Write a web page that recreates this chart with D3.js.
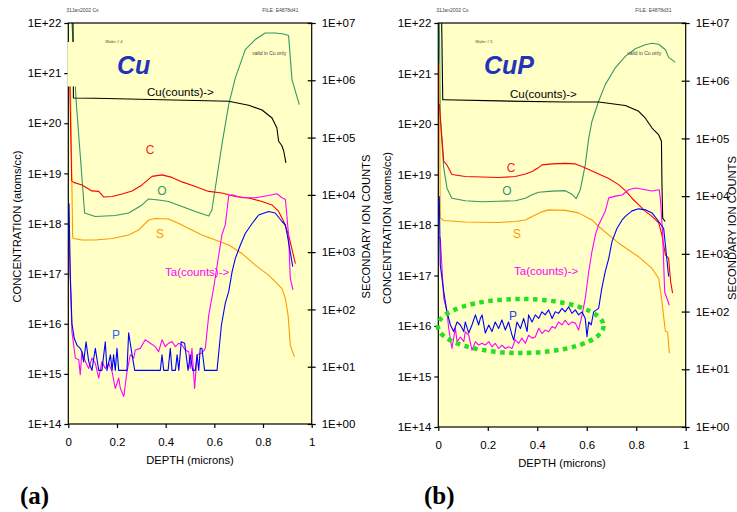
<!DOCTYPE html>
<html>
<head>
<meta charset="utf-8">
<script src="https://cdn.jsdelivr.net/npm/d3@7"></script>
<style>
  body { margin: 0; background: #fff; }
  svg { display: block; font-family: "Liberation Sans", Arial, sans-serif; }
</style>
</head>
<body>
<svg id="chart"></svg>
<script>
// Values.
// Each point is [depth (microns), log10(value)].
// C, O, S and P are concentrations (left axis), Cu and Ta are counts (right axis).

const xTicks = [0, 0.2, 0.4, 0.6, 0.8, 1];
const concDecades = [14, 15, 16, 17, 18, 19, 20, 21, 22];
const countDecades = [0, 1, 2, 3, 4, 5, 6, 7];

// ---- panel (a) : Cu ----
const cuCountsA = [[0.019,7.2],[0.021,5.69],[0.11,5.686],[0.385,5.66],[0.659,5.634],[0.741,5.564],[0.796,5.482],
  [0.837,5.342],[0.857,5.167],[0.864,4.94],[0.878,4.853],[0.885,4.766],[0.894,4.557]];
const oxygenA = [[0.013,22.2],[0.032,20.46],[0.067,18.21],[0.111,18.14],[0.193,18.16],[0.248,18.21],[0.303,18.37],
  [0.33,18.49],[0.371,18.47],[0.412,18.44],[0.467,18.34],[0.522,18.24],[0.577,18.15],[0.59,18.27],[0.631,19.57],
  [0.659,20.37],[0.686,20.9],[0.727,21.47],[0.768,21.67],[0.809,21.8],[0.85,21.8],[0.885,21.78],[0.905,21.75],
  [0.919,20.87],[0.949,20.37]];
const carbonA = [[0.004,21.3],[0.014,18.85],[0.022,18.82],[0.056,18.77],[0.097,18.65],[0.125,18.64],[0.145,18.53],
  [0.18,18.54],[0.221,18.59],[0.262,18.65],[0.303,18.77],[0.344,18.94],[0.385,18.97],[0.426,18.92],[0.467,18.83],
  [0.522,18.74],[0.577,18.64],[0.631,18.61],[0.686,18.54],[0.741,18.51],[0.796,18.44],[0.837,18.37],[0.864,18.24],
  [0.885,18.04],[0.905,17.77],[0.933,17.2]];
const sulfurA = [[0.007,21.3],[0.018,17.72],[0.022,17.7],[0.056,17.67],[0.111,17.67],[0.18,17.7],[0.248,17.77],
  [0.289,17.87],[0.33,18.07],[0.357,18.1],[0.412,18.09],[0.454,18.0],[0.495,17.9],[0.549,17.77],[0.604,17.67],
  [0.659,17.57],[0.714,17.4],[0.768,17.17],[0.823,16.97],[0.85,16.84],[0.878,16.7],[0.892,16.5],[0.903,16.17],
  [0.912,15.57],[0.929,15.34]];
const taCountsA = [[0.003,3.25],[0.015,1.61],[0.029,1.15],[0.043,1.12],[0.049,0.86],[0.056,1.26],[0.07,1.09],
  [0.084,0.97],[0.097,1.15],[0.111,1.06],[0.125,0.8],[0.138,1.09],[0.152,0.97],[0.166,1.06],[0.18,0.91],
  [0.193,0.62],[0.207,0.8],[0.214,0.62],[0.228,0.48],[0.241,0.91],[0.255,1.21],[0.269,1.15],[0.275,1.29],
  [0.296,1.32],[0.316,1.47],[0.337,1.41],[0.357,1.35],[0.371,1.26],[0.385,1.47],[0.399,1.35],[0.412,1.41],
  [0.426,1.44],[0.44,1.35],[0.454,1.41],[0.467,1.38],[0.481,1.29],[0.495,1.26],[0.501,0.97],[0.508,1.32],
  [0.519,0.62],[0.529,1.21],[0.549,1.24],[0.563,1.32],[0.577,1.9],[0.597,2.37],[0.618,2.95],[0.631,3.3],
  [0.645,3.48],[0.659,3.98],[0.673,4.0],[0.714,3.95],[0.768,3.95],[0.823,3.99],[0.857,4.02],[0.878,3.95],
  [0.892,3.92],[0.905,3.3],[0.912,2.54],[0.923,2.34]];
const phosA = [[0.003,18.4],[0.008,17.0],[0.015,16.0],[0.025,15.7],[0.036,15.57],[0.049,15.51],[0.056,15.44],
  [0.063,15.24],[0.073,15.64],[0.084,15.24],[0.097,15.07],[0.111,15.51],[0.125,15.07],[0.138,15.07],[0.152,15.64],
  [0.159,15.07],[0.173,15.38],[0.18,15.07],[0.186,15.38],[0.193,15.07],[0.2,15.51],[0.207,15.07],[0.241,15.07],
  [0.248,15.82],[0.262,15.38],[0.273,15.07],[0.378,15.07],[0.385,15.38],[0.392,15.07],[0.41,15.07],[0.419,15.51],
  [0.426,15.07],[0.44,15.07],[0.447,15.38],[0.454,15.07],[0.464,15.64],[0.478,15.61],[0.492,15.07],[0.501,15.38],
  [0.511,15.07],[0.522,15.07],[0.529,15.38],[0.536,15.07],[0.542,15.51],[0.549,15.51],[0.56,15.07],[0.611,15.07],
  [0.629,15.97],[0.645,16.41],[0.659,16.64],[0.673,17.04],[0.686,17.3],[0.707,17.57],[0.727,17.8],[0.755,18.0],
  [0.782,18.17],[0.823,18.24],[0.85,18.21],[0.878,18.04],[0.892,17.97],[0.905,17.63],[0.922,17.14]];

// ---- panel (b) : CuP ----
const cuCountsB = [[0.013,7.2],[0.018,5.67],[0.022,5.67],[0.244,5.65],[0.513,5.63],[0.648,5.63],[0.756,5.57],
  [0.81,5.47],[0.837,5.35],[0.864,5.18],[0.891,5.06],[0.902,4.95],[0.904,4.2],[0.907,3.62],[0.917,3.56]];
const oxygenB = [[0.004,22.1],[0.008,20.12],[0.022,19.13],[0.035,18.73],[0.055,18.53],[0.109,18.48],[0.177,18.46],
  [0.244,18.47],[0.311,18.48],[0.352,18.53],[0.379,18.6],[0.406,18.65],[0.46,18.67],[0.513,18.68],[0.54,18.61],
  [0.557,18.52],[0.574,18.7],[0.594,19.19],[0.608,19.72],[0.621,20.05],[0.648,20.45],[0.675,20.78],[0.715,21.11],
  [0.756,21.34],[0.796,21.49],[0.837,21.57],[0.864,21.6],[0.891,21.58],[0.918,21.47],[0.931,21.32],[0.945,21.27],
  [0.958,21.22]];
const carbonB = [[0.004,20.4],[0.022,19.26],[0.035,19.19],[0.055,19.0],[0.109,18.96],[0.177,18.95],[0.244,18.94],
  [0.311,18.96],[0.352,19.01],[0.379,19.06],[0.406,19.14],[0.419,19.19],[0.46,19.21],[0.513,19.22],[0.554,19.21],
  [0.581,19.16],[0.608,19.1],[0.648,19.01],[0.689,18.92],[0.729,18.8],[0.756,18.68],[0.783,18.53],[0.81,18.4],
  [0.837,18.27],[0.864,18.17],[0.891,18.04],[0.904,17.8],[0.918,17.41],[0.931,17.34],[0.939,16.88],[0.947,16.65]];
const sulfurB = [[0.004,21.2],[0.008,18.14],[0.022,18.09],[0.109,18.06],[0.244,18.05],[0.311,18.07],[0.352,18.1],
  [0.379,18.17],[0.419,18.26],[0.446,18.3],[0.513,18.29],[0.567,18.24],[0.621,18.1],[0.648,17.97],[0.729,17.64],
  [0.81,17.37],[0.864,17.14],[0.891,16.94],[0.904,16.48],[0.918,15.89],[0.927,15.88],[0.934,15.46]];
const taCountsB = [[0.004,3.29],[0.008,3.27],[0.022,2.23],[0.035,2.0],[0.042,1.71],[0.055,1.36],[0.069,1.71],
  [0.076,1.48],[0.089,1.56],[0.103,1.48],[0.109,1.65],[0.123,1.59],[0.136,1.33],[0.15,1.48],[0.163,1.42],
  [0.177,1.45],[0.19,1.42],[0.204,1.48],[0.217,1.39],[0.23,1.45],[0.244,1.36],[0.257,1.42],[0.271,1.36],
  [0.284,1.39],[0.298,1.36],[0.311,1.51],[0.325,1.45],[0.338,1.54],[0.352,1.45],[0.365,1.59],[0.379,1.54],
  [0.392,1.56],[0.406,1.71],[0.419,1.62],[0.432,1.68],[0.446,1.65],[0.46,1.74],[0.473,1.71],[0.486,1.82],
  [0.5,1.77],[0.513,1.85],[0.527,1.77],[0.54,1.82],[0.554,1.8],[0.567,1.68],[0.581,1.94],[0.594,2.23],
  [0.608,2.69],[0.621,3.04],[0.635,3.33],[0.648,3.5],[0.675,3.74],[0.689,3.97],[0.716,4.0],[0.743,4.02],
  [0.77,4.11],[0.796,4.14],[0.837,4.11],[0.864,4.09],[0.893,4.11],[0.898,3.94],[0.907,3.33],[0.915,2.34],
  [0.934,2.11]];
const phosB = [[0.004,18.57],[0.008,17.21],[0.022,16.68],[0.035,16.28],[0.049,16.02],[0.062,15.89],[0.076,16.08],
  [0.089,16.02],[0.103,15.89],[0.109,16.08],[0.123,15.86],[0.136,16.02],[0.15,16.22],[0.163,16.02],[0.17,16.15],
  [0.177,16.22],[0.19,15.86],[0.204,16.02],[0.217,15.89],[0.23,16.08],[0.244,15.95],[0.257,16.12],[0.271,15.92],
  [0.284,16.08],[0.298,15.82],[0.305,15.72],[0.318,16.08],[0.332,15.95],[0.345,16.15],[0.359,15.89],[0.365,16.22],
  [0.379,16.08],[0.392,16.22],[0.406,16.15],[0.419,16.28],[0.432,16.22],[0.446,16.32],[0.46,16.15],[0.473,16.28],
  [0.486,16.25],[0.5,16.35],[0.513,16.28],[0.527,16.38],[0.54,16.25],[0.554,16.32],[0.567,16.22],[0.581,16.28],
  [0.594,16.15],[0.601,15.79],[0.608,16.08],[0.618,16.02],[0.628,16.28],[0.648,16.35],[0.661,16.75],[0.675,17.08],
  [0.689,17.34],[0.702,17.67],[0.722,17.93],[0.743,18.1],[0.756,18.17],[0.783,18.28],[0.81,18.32],[0.837,18.3],
  [0.864,18.24],[0.891,18.07],[0.911,17.93],[0.918,17.6],[0.931,16.98]];

const COLORS = { cu: '#000000', o: '#339966', c: '#ff0000', s: '#ff9900', ta: '#ff00ff', p: '#0000ff' };
const PLOT_BG = '#ffffc6';

const W = 737, H = 512;
const svg = d3.select('#chart').attr('width', W).attr('height', H);
svg.append('rect').attr('width', W).attr('height', H).attr('fill', '#fff');

function drawPanel(cfg) {
  const g = svg.append('g');
  const x = d3.scaleLinear().domain([0, 1]).range([cfg.left, cfg.right]);
  const yConc = d3.scaleLog().domain([1e14, 1e22]).range([cfg.bottom, cfg.top]);
  const yCount = d3.scaleLog().domain([1, 1e7]).range([cfg.bottom, cfg.top]);

  g.append('rect')
    .attr('x', cfg.left).attr('y', cfg.top)
    .attr('width', cfg.right - cfg.left).attr('height', cfg.bottom - cfg.top)
    .attr('fill', PLOT_BG);

  g.append('clipPath').attr('id', cfg.id + '-clip')
    .append('rect')
    .attr('x', cfg.left).attr('y', cfg.top)
    .attr('width', cfg.right - cfg.left).attr('height', cfg.bottom - cfg.top);

  const curves = g.append('g').attr('clip-path', `url(#${cfg.id}-clip)`);
  for (const s of cfg.series) {
    const y = s.axis === 'count' ? yCount : yConc;
    const line = d3.line().x(d => x(d[0])).y(d => y(Math.pow(10, d[1])));
    curves.append('path')
      .attr('d', line(s.data))
      .attr('fill', 'none')
      .attr('stroke', s.color)
      .attr('stroke-width', 1.1)
      .attr('stroke-linejoin', 'round');
  }

  // frame
  g.append('rect')
    .attr('x', cfg.left).attr('y', cfg.top)
    .attr('width', cfg.right - cfg.left).attr('height', cfg.bottom - cfg.top)
    .attr('fill', 'none').attr('stroke', '#000').attr('stroke-width', 1.2);

  // left axis
  const leftAxis = g.append('g')
    .attr('transform', `translate(${cfg.left},0)`)
    .call(d3.axisLeft(yConc)
      .tickValues(concDecades.map(e => Math.pow(10, e)))
      .tickFormat(d => '1E+' + Math.round(Math.log10(d)))
      .tickSize(4).tickPadding(3));
  // right axis, ticks cross the line
  const rightAxis = g.append('g')
    .attr('transform', `translate(${cfg.right},0)`)
    .call(d3.axisRight(yCount)
      .tickValues(countDecades.map(e => Math.pow(10, e)))
      .tickFormat(d => '1E+' + String(Math.round(Math.log10(d))).padStart(2, '0'))
      .tickSize(4).tickPadding(6));
  rightAxis.selectAll('.tick line').attr('x1', -4);
  // bottom axis
  const bottomAxis = g.append('g')
    .attr('transform', `translate(0,${cfg.bottom})`)
    .call(d3.axisBottom(x)
      .tickValues(xTicks)
      .tickFormat(d => String(+d.toFixed(1)))
      .tickSize(4).tickPadding(9.5));

  for (const a of [leftAxis, rightAxis, bottomAxis]) {
    a.select('.domain').remove();
    a.selectAll('.tick line').attr('stroke', '#000').attr('stroke-width', 1.2);
    a.selectAll('.tick text')
      .attr('font-family', '"Liberation Sans", Arial, sans-serif')
      .attr('font-size', 11.5).attr('fill', '#000');
  }

  // text box in panel covering part of the left frame
  if (cfg.cover) {
    g.append('rect')
      .attr('x', cfg.left - 0.8).attr('y', cfg.cover[0])
      .attr('width', 95).attr('height', cfg.cover[1] - cfg.cover[0])
      .attr('fill', PLOT_BG);
  }

  const midY = (cfg.top + cfg.bottom) / 2 + 3;
  g.append('text')
    .attr('transform', `translate(${cfg.left - 47.5},${midY}) rotate(-90)`)
    .attr('text-anchor', 'middle').attr('font-size', 11.2).attr('fill', '#000')
    .text('CONCENTRATION (atoms/cc)');
  g.append('text')
    .attr('transform', `translate(${cfg.right + cfg.countTitleDx},${midY}) rotate(-90)`)
    .attr('text-anchor', 'middle').attr('font-size', 11.2).attr('fill', '#000')
    .text('SECONDARY ION COUNTS');
  g.append('text')
    .attr('x', (cfg.left + cfg.right) / 2).attr('y', cfg.bottom + 40)
    .attr('text-anchor', 'middle').attr('font-size', 11.2)
    .text('DEPTH (microns)');

  // tiny header / stamp texts
  const tiny = [
    { t: cfg.date, x: cfg.left - 2, y: 12, s: 5 },
    { t: cfg.file, x: cfg.left + cfg.fileDx, y: 12, s: 5 },
    { t: cfg.wafer, x: cfg.left + 37, y: 43, s: 4 },
    { t: 'valid in Cu only', x: cfg.left + cfg.validDx, y: 55, s: 5 }
  ];
  for (const d of tiny) {
    g.append('text').attr('x', d.x).attr('y', d.y)
      .attr('font-size', d.s).attr('fill', '#444').text(d.t);
  }

  g.append('text')
    .attr('x', cfg.titleX).attr('y', 74)
    .attr('font-size', 25).attr('font-weight', 'bold').attr('font-style', 'italic')
    .attr('fill', '#2233bb')
    .text(cfg.title);

  for (const l of cfg.labels) {
    g.append('text')
      .attr('x', l.x).attr('y', l.y)
      .attr('text-anchor', l.anchor || 'middle')
      .attr('dominant-baseline', 'central')
      .attr('font-size', l.size || 12)
      .attr('fill', l.color)
      .text(l.text);
  }

  if (cfg.ellipse) {
    const e = cfg.ellipse;
    g.append('ellipse')
      .attr('cx', x(e.depth)).attr('cy', yConc(Math.pow(10, e.exp)))
      .attr('rx', x(e.halfWidth) - x(0))
      .attr('ry', yConc(Math.pow(10, e.exp)) - yConc(Math.pow(10, e.exp + e.halfDecades)))
      .attr('fill', 'none')
      .attr('stroke', '#22e022')
      .attr('stroke-width', 4.5)
      .attr('stroke-dasharray', '4.5 4.5');
  }

  g.append('text')
    .attr('x', cfg.tagX).attr('y', 504)
    .attr('font-family', '"Liberation Serif", "Times New Roman", serif')
    .attr('font-size', 25).attr('font-weight', 'bold')
    .text(cfg.tag);
}

drawPanel({
  id: 'pa', left: 68.3, right: 311.7, top: 23, bottom: 424,
  title: 'Cu', titleX: 117, tag: '(a)', tagX: 20, countTitleDx: 57.8,
  date: '31Jan2002   Cs', file: 'FILE: E4878d41', fileDx: 194, wafer: 'Wafer # 4', validDx: 184,
  cover: [42, 86.5],
  series: [
    { data: oxygenA, axis: 'conc', color: COLORS.o },
    { data: sulfurA, axis: 'conc', color: COLORS.s },
    { data: carbonA, axis: 'conc', color: COLORS.c },
    { data: taCountsA, axis: 'count', color: COLORS.ta },
    { data: phosA, axis: 'conc', color: COLORS.p },
    { data: cuCountsA, axis: 'count', color: COLORS.cu }
  ],
  labels: [
    { text: 'Cu(counts)->', x: 147, y: 92, anchor: 'start', color: '#000', size: 11.5 },
    { text: 'C', x: 150, y: 150, color: '#ff2020' },
    { text: 'O', x: 162, y: 191, color: '#339966' },
    { text: 'S', x: 160, y: 234, color: '#ff9900' },
    { text: 'Ta(counts)->', x: 165, y: 272, anchor: 'start', color: '#ff00ff', size: 11.5 },
    { text: 'P', x: 116, y: 335, color: '#3366ff' }
  ]
});

drawPanel({
  id: 'pb', left: 438.3, right: 685.7, top: 23, bottom: 427,
  title: 'CuP', titleX: 484, tag: '(b)', tagX: 424, countTitleDx: 50,
  date: '31Jan2002  Cs', file: 'FILE: E4878d31', fileDx: 197, wafer: 'Wafer # 5', validDx: 189,
  series: [
    { data: oxygenB, axis: 'conc', color: COLORS.o },
    { data: sulfurB, axis: 'conc', color: COLORS.s },
    { data: carbonB, axis: 'conc', color: COLORS.c },
    { data: taCountsB, axis: 'count', color: COLORS.ta },
    { data: phosB, axis: 'conc', color: COLORS.p },
    { data: cuCountsB, axis: 'count', color: COLORS.cu }
  ],
  labels: [
    { text: 'Cu(counts)->', x: 510, y: 94, anchor: 'start', color: '#000', size: 11.5 },
    { text: 'C', x: 511, y: 168, color: '#ff2020' },
    { text: 'O', x: 507, y: 191, color: '#339966' },
    { text: 'S', x: 517, y: 234, color: '#ff9900' },
    { text: 'Ta(counts)->', x: 514, y: 271, anchor: 'start', color: '#ff00ff', size: 11.5 },
    { text: 'P', x: 513, y: 316, color: '#2244ee' }
  ],
  ellipse: { depth: 0.333, exp: 16.0, halfWidth: 0.335, halfDecades: 0.535 }
});
</script>
</body>
</html>
